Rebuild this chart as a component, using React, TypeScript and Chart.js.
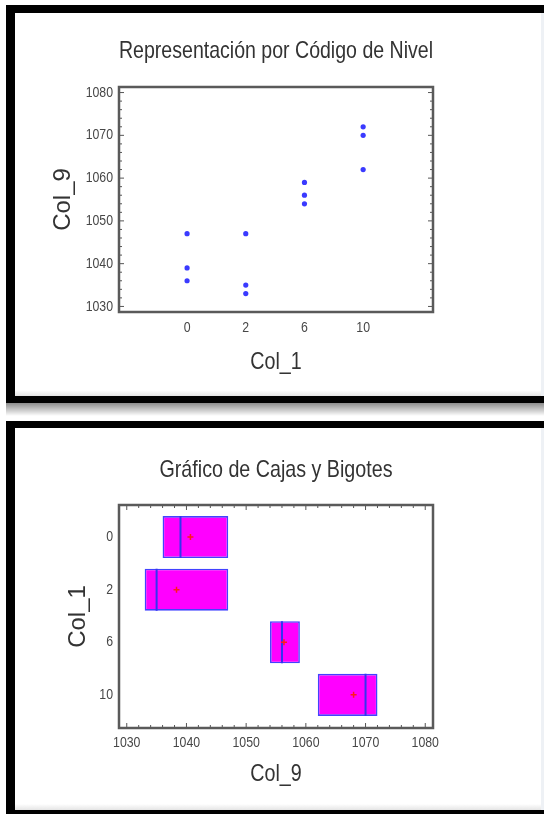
import React, { useEffect, useRef } from 'react';
import { Chart, registerables } from 'chart.js';

Chart.register(...registerables);

// ---- data ----
const levels = ['0', '2', '6', '10'];
const col9Level0 = [1047, 1039, 1036];
const col9Level2 = [1047, 1035, 1033];
const col9Level6 = [1059, 1056, 1054];
const col9Level10 = [1072, 1070, 1062];
const col9Ticks = [1030, 1040, 1050, 1060, 1070, 1080];
const col9Min = 1028.7;
const col9Max = 1081.3;
const minorStep = 2;

const groups = [col9Level0, col9Level2, col9Level6, col9Level10];

// ---- helpers ----
const sortNum = (a: number[]) => [...a].sort((p, q) => p - q);
const median = (a: number[]) => {
  const s = sortNum(a);
  const n = s.length;
  return n % 2 ? s[(n - 1) / 2] : (s[n / 2 - 1] + s[n / 2]) / 2;
};
const mean = (a: number[]) => a.reduce((s, v) => s + v, 0) / a.length;
// with n = 3 the quartile box spans the extremes
const lower = (a: number[]) => Math.min(...a);
const upper = (a: number[]) => Math.max(...a);

const FONT = '"Liberation Sans", Arial, sans-serif';
const TITLE_COLOR = '#333333';
const TICK_COLOR = '#474747';
const TICK_SIZE = 15;
const boxFraction = 0.8;
const CONDENSE = 0.82; // the reference text is horizontally condensed (Arial Narrow look)

// Horizontal (unrotated) text is drawn condensed, like the reference's narrow font.
const condensePlugin = {
  id: 'condense',
  beforeInit(chart: any) {
    const ctx = chart.ctx as CanvasRenderingContext2D;
    if ((ctx as any).__condensed) return;
    (ctx as any).__condensed = true;
    const orig = CanvasRenderingContext2D.prototype.fillText;
    (ctx as any).fillText = function (text: string, x: number, y: number, maxWidth?: number) {
      const t = ctx.getTransform();
      if (Math.abs(t.b) < 1e-6 && Math.abs(t.c) < 1e-6) {
        const w = ctx.measureText(text).width * CONDENSE;
        const mw = maxWidth === undefined || maxWidth === null ? w : Math.min(w, maxWidth);
        return orig.call(ctx, text, x, y, mw);
      }
      return maxWidth === undefined || maxWidth === null
        ? orig.call(ctx, text, x, y)
        : orig.call(ctx, text, x, y, maxWidth);
    };
  },
};

const framePlugin = (valueAxis: 'x' | 'y') => ({
  id: 'frameTicks',
  afterDraw(chart: any) {
    const { ctx, chartArea } = chart;
    const { left, right, top, bottom } = chartArea;
    const scale = chart.scales[valueAxis];
    ctx.save();
    ctx.strokeStyle = '#555';
    ctx.lineWidth = 1;
    for (let v = Math.ceil(scale.min / minorStep) * minorStep; v <= scale.max; v += minorStep) {
      const major = col9Ticks.includes(v);
      const len = major ? 5 : 3;
      const p = scale.getPixelForValue(v);
      ctx.beginPath();
      if (valueAxis === 'y') {
        ctx.moveTo(left, p);
        ctx.lineTo(left + len, p);
        ctx.moveTo(right, p);
        ctx.lineTo(right - len, p);
      } else {
        ctx.moveTo(p, top);
        ctx.lineTo(p, top + len);
        ctx.moveTo(p, bottom);
        ctx.lineTo(p, bottom - len);
      }
      ctx.stroke();
    }
    ctx.lineWidth = 2.5;
    ctx.strokeStyle = '#5a5a5a';
    ctx.strokeRect(left, top, right - left, bottom - top);
    ctx.restore();
  },
});

const plainNumber = (v: any) => String(v);

function ScatterChart() {
  const ref = useRef<HTMLCanvasElement | null>(null);
  useEffect(() => {
    if (!ref.current) return;
    const chart = new Chart(ref.current, {
      type: 'scatter',
      data: {
        datasets: [
          {
            data: groups.flatMap((g, i) => g.map((v) => ({ x: i, y: v }))),
            pointStyle: 'circle',
            pointRadius: 2.6,
            backgroundColor: '#3a3aff',
            borderWidth: 0,
          },
        ],
      },
      options: {
        animation: false,
        responsive: false,
        events: [],
        layout: { padding: { left: 0, right: 111, top: 0, bottom: 0 } },
        plugins: {
          legend: { display: false },
          tooltip: { enabled: false },
          title: {
            display: true,
            text: 'Representación por Código de Nivel',
            fullSize: false,
            color: TITLE_COLOR,
            font: { family: FONT, size: 24, weight: 'normal' },
            padding: { top: 23.6, bottom: 21.6 },
          },
        },
        scales: {
          x: {
            type: 'linear',
            min: -1.16,
            max: 4.19,
            afterBuildTicks: (ax: any) => {
              ax.ticks = levels.map((_, i) => ({ value: i }));
            },
            afterFit: (s: any) => {
              s.height = 84;
            },
            ticks: {
              callback: (v: any) => levels[v as number],
              color: TICK_COLOR,
              font: { family: FONT, size: TICK_SIZE, weight: 'normal' },
              padding: 7,
            },
            grid: { display: false, drawTicks: false },
            border: { display: false },
            title: {
              display: true,
              text: 'Col_1',
              color: TITLE_COLOR,
              font: { family: FONT, size: 24, weight: 'normal' },
              padding: { top: 0, bottom: 19.6 },
            },
          },
          y: {
            type: 'linear',
            min: col9Min,
            max: col9Max,
            afterBuildTicks: (ax: any) => {
              ax.ticks = col9Ticks.map((v) => ({ value: v }));
            },
            afterFit: (s: any) => {
              s.width = 104;
            },
            ticks: {
              callback: plainNumber,
              color: TICK_COLOR,
              font: { family: FONT, size: TICK_SIZE, weight: 'normal' },
              padding: 6,
            },
            grid: { display: false, drawTicks: false },
            border: { display: false },
            title: {
              display: true,
              text: 'Col_9',
              color: TITLE_COLOR,
              font: { family: FONT, size: 24, weight: 'normal' },
              padding: { top: 33.6, bottom: 0 },
            },
          },
        },
      },
      plugins: [condensePlugin, framePlugin('y')],
    } as any);
    return () => chart.destroy();
  }, []);
  return <canvas ref={ref} width={529} height={383} style={{ display: 'block' }} />;
}

function BoxChart() {
  const ref = useRef<HTMLCanvasElement | null>(null);
  useEffect(() => {
    if (!ref.current) return;
    const half = boxFraction / 2;
    const chart = new Chart(ref.current, {
      type: 'bar',
      data: {
        datasets: [
          {
            type: 'bar',
            order: 10,
            data: groups.map((g, i) => ({ y: i, x: [lower(g), upper(g)] })),
            backgroundColor: '#ff00ff',
            borderColor: '#4242ff',
            borderWidth: 1.6,
            borderSkipped: false,
            categoryPercentage: 1,
            barPercentage: boxFraction,
          },
          ...groups.map((g, i) => ({
            type: 'scatter',
            order: 1,
            data: [
              { x: median(g), y: i - half },
              { x: median(g), y: i + half },
            ],
            showLine: true,
            borderColor: '#3434f0',
            borderWidth: 2,
            pointRadius: 0,
          })),
          {
            type: 'scatter',
            order: 0,
            data: groups.map((g, i) => ({ x: mean(g), y: i })),
            pointStyle: 'cross',
            pointRadius: 3,
            borderColor: '#ff1a1a',
            borderWidth: 1.5,
          },
        ],
      },
      options: {
        animation: false,
        responsive: false,
        events: [],
        indexAxis: 'y',
        layout: { padding: { left: 0, right: 111, top: 0, bottom: 0 } },
        plugins: {
          legend: { display: false },
          tooltip: { enabled: false },
          title: {
            display: true,
            text: 'Gráfico de Cajas y Bigotes',
            fullSize: false,
            color: TITLE_COLOR,
            font: { family: FONT, size: 24, weight: 'normal' },
            padding: { top: 27.6, bottom: 20.6 },
          },
        },
        scales: {
          x: {
            type: 'linear',
            min: col9Min,
            max: col9Max,
            afterBuildTicks: (ax: any) => {
              ax.ticks = col9Ticks.map((v) => ({ value: v }));
            },
            afterFit: (s: any) => {
              s.height = 82;
            },
            ticks: {
              callback: plainNumber,
              color: TICK_COLOR,
              font: { family: FONT, size: TICK_SIZE, weight: 'normal' },
              padding: 6.3,
            },
            grid: { display: false, drawTicks: false },
            border: { display: false },
            title: {
              display: true,
              text: 'Col_9',
              color: TITLE_COLOR,
              font: { family: FONT, size: 24, weight: 'normal' },
              padding: { top: 0, bottom: 20.9 },
            },
          },
          y: {
            type: 'linear',
            reverse: true,
            offset: false,
            min: -0.61,
            max: 3.63,
            afterBuildTicks: (ax: any) => {
              ax.ticks = levels.map((_, i) => ({ value: i }));
            },
            afterFit: (s: any) => {
              s.width = 104;
            },
            ticks: {
              callback: (v: any) => levels[v as number],
              color: TICK_COLOR,
              font: { family: FONT, size: TICK_SIZE, weight: 'normal' },
              padding: 6,
            },
            grid: { display: false, drawTicks: false },
            border: { display: false },
            title: {
              display: true,
              text: 'Col_1',
              color: TITLE_COLOR,
              font: { family: FONT, size: 24, weight: 'normal' },
              padding: { top: 48.6, bottom: 0 },
            },
          },
        },
      },
      plugins: [condensePlugin, framePlugin('x')],
    } as any);
    return () => chart.destroy();
  }, []);
  return <canvas ref={ref} width={529} height={382} style={{ display: 'block' }} />;
}

const panelBase: React.CSSProperties = {
  position: 'absolute',
  left: 6,
  width: 560,
  boxSizing: 'border-box',
  borderStyle: 'solid',
  borderColor: '#000',
  background: '#fff',
};

const canvasBox: React.CSSProperties = { position: 'absolute', left: 0, top: 0 };

const bottomFade: React.CSSProperties = {
  position: 'absolute',
  left: 0,
  right: 0,
  bottom: 0,
  height: 6,
  background: 'linear-gradient(rgba(230,230,230,0), rgba(225,225,225,0.9))',
  pointerEvents: 'none',
};

const rightStrip: React.CSSProperties = {
  position: 'absolute',
  left: 526,
  width: 3,
  top: 0,
  bottom: 0,
  background: '#eef1f5',
  pointerEvents: 'none',
};

export default function App() {
  return (
    <div
      style={{
        position: 'absolute',
        left: 0,
        top: 0,
        width: 544,
        height: 814,
        overflow: 'hidden',
        background: '#fff',
      }}
    >
      <div
        style={{
          ...panelBase,
          top: 5,
          height: 398,
          borderWidth: '8px 9px 7px 9px',
        }}
      >
        <div style={canvasBox}>
          <ScatterChart />
        </div>
        <div style={bottomFade} />
        <div style={rightStrip} />
      </div>
      <div
        style={{
          position: 'absolute',
          left: 6,
          top: 403,
          width: 538,
          height: 13,
          background: 'linear-gradient(rgba(0,0,0,0.45), rgba(0,0,0,0))',
        }}
      />
      <div
        style={{
          ...panelBase,
          top: 421,
          height: 397,
          borderWidth: '7px 9px 8px 9px',
        }}
      >
        <div style={canvasBox}>
          <BoxChart />
        </div>
        <div style={bottomFade} />
        <div style={rightStrip} />
      </div>
    </div>
  );
}
